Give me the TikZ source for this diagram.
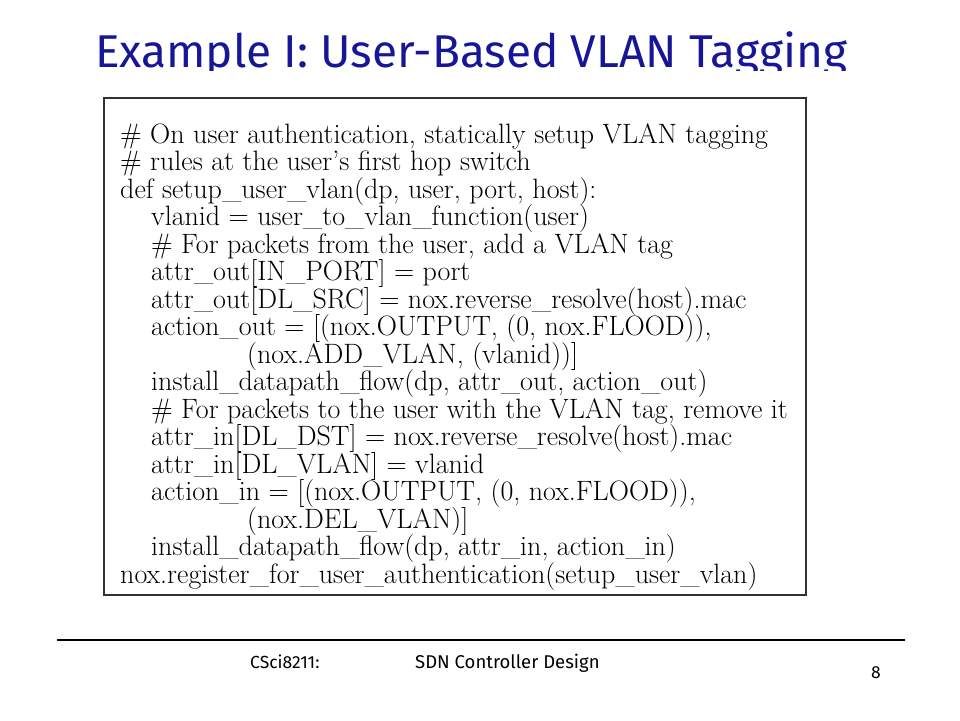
\documentclass[tikz,border=0pt]{standalone}
\usepackage{fontspec}
\newfontfamily\titlefont{Fira Sans}
\definecolor{titleblue}{RGB}{22,22,150}
\definecolor{boxgray}{RGB}{50,50,50}
\begin{document}
\begin{tikzpicture}[x=1pt,y=1pt,
  code/.style={anchor=base west,inner sep=0pt,font=\fontsize{28}{30}\selectfont},
  foot/.style={anchor=base west,inner sep=0pt,font=\titlefont\fontsize{17.5}{19}\selectfont}]
\useasboundingbox[fill=white] (0,0) rectangle (960,-720);
\begin{scope}
\clip (0,0) rectangle (960,-70);
\node[anchor=base west,inner sep=0pt,text=titleblue,font=\titlefont\fontsize{46}{50}\selectfont] (title) at (95,-67) {Example I: User-Based VLAN Tagging};
\end{scope}
\node[draw=boxgray,line width=2pt,minimum width=702pt,minimum height=497pt,anchor=north west,inner sep=0pt] (box) at (103,-97) {};
\node[code] (l1) at (120,-143) {\# On user authentication, statically setup VLAN tagging};
\node[code] (l2) at (120,-170.5) {\# rules at the user's first hop switch};
\node[code] (l3) at (120,-198) {def setup\_user\_vlan(dp, user, port, host):};
\node[code] (l4) at (151,-225.5) {vlanid = user\_to\_vlan\_function(user)};
\node[code] (l5) at (151,-253) {\# For packets from the user, add a VLAN tag};
\node[code] (l6) at (151,-280.5) {attr\_out[IN\_PORT] = port};
\node[code] (l7) at (151,-308) {attr\_out[DL\_SRC] = nox.reverse\_resolve(host).mac};
\node[code] (l8) at (151,-335.5) {action\_out = [(nox.OUTPUT, (0, nox.FLOOD)),};
\node[code] (l9) at (247,-363) {(nox.ADD\_VLAN, (vlanid))]};
\node[code] (l10) at (151,-390.5) {install\_datapath\_flow(dp, attr\_out, action\_out)};
\node[code] (l11) at (151,-418) {\# For packets to the user with the VLAN tag, remove it};
\node[code] (l12) at (151,-445.5) {attr\_in[DL\_DST] = nox.reverse\_resolve(host).mac};
\node[code] (l13) at (151,-473) {attr\_in[DL\_VLAN] = vlanid};
\node[code] (l14) at (151,-500.5) {action\_in = [(nox.OUTPUT, (0, nox.FLOOD)),};
\node[code] (l15) at (247,-528) {(nox.DEL\_VLAN)]};
\node[code] (l16) at (151,-555.5) {install\_datapath\_flow(dp, attr\_in, action\_in)};
\node[code] (l17) at (120,-583) {nox.register\_for\_user\_authentication(setup\_user\_vlan)};
\coordinate (fl) at (57,-640);
\coordinate (fr) at (905,-640);
\draw[line width=1.2pt] (fl) -- (fr);
\node[foot] (course) at (250,-668) {CSci8211:};
\node[foot,font=\titlefont\fontsize{18.5}{20}\selectfont] (topic) at (415,-668) {SDN Controller Design};
\node[foot] (page) at (871,-678) {8};
\end{tikzpicture}
\end{document}
